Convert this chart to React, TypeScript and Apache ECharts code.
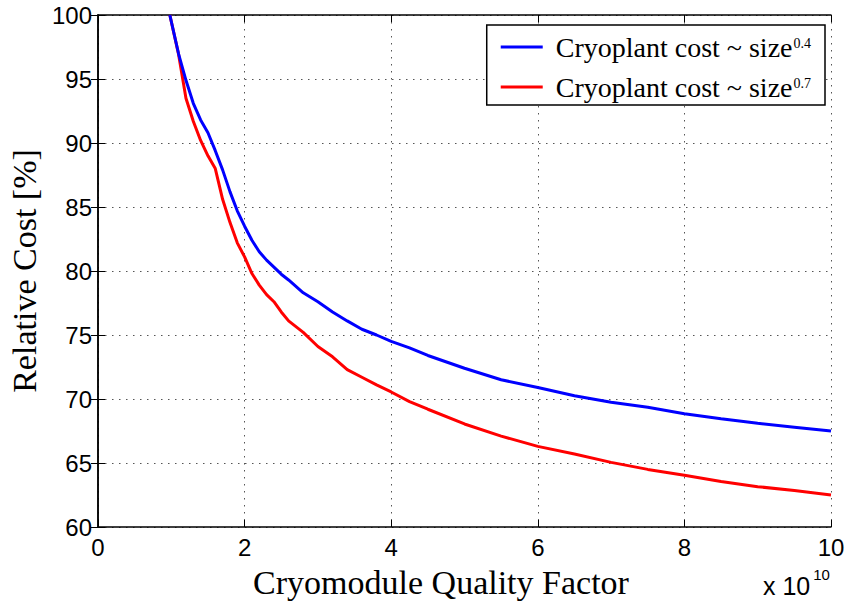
import React, { useEffect, useRef } from "react";
import * as echarts from "echarts";

// Cryomodule quality factor (in units of 1e10)
const qFactor = [
  0.98, 1.1, 1.2, 1.3, 1.4, 1.5, 1.6, 1.7, 1.8, 1.9, 2.0, 2.1, 2.2, 2.3, 2.4,
  2.5, 2.6, 2.8, 3.0, 3.2, 3.4, 3.6, 3.8, 4.0, 4.25, 4.5, 5.0, 5.5, 6.0, 6.5,
  7.0, 7.5, 8.0, 8.5, 9.0, 9.5, 10.0,
];

// Relative cost [%] with cryoplant cost scaling as size^0.4
const cost04 = [
  100, 96.95, 94.9, 93.1, 91.8, 90.8, 89.4, 87.9, 86.2, 84.7, 83.5, 82.4, 81.5,
  80.85, 80.3, 79.75, 79.3, 78.3, 77.6, 76.8, 76.1, 75.45, 75.0, 74.5, 74.0,
  73.4, 72.4, 71.5, 70.9, 70.25, 69.75, 69.35, 68.85, 68.45, 68.1, 67.8, 67.5,
];

// Relative cost [%] with cryoplant cost scaling as size^0.7
const cost07 = [
  100, 96.9, 93.5, 91.7, 90.2, 89.0, 88.0, 85.6, 83.8, 82.2, 81.1, 79.8, 78.9,
  78.15, 77.6, 76.8, 76.1, 75.2, 74.1, 73.3, 72.3, 71.7, 71.1, 70.55, 69.8,
  69.2, 68.05, 67.1, 66.3, 65.7, 65.05, 64.5, 64.05, 63.55, 63.15, 62.85, 62.5,
];

const seriesNames = ["Cryoplant cost ~ size^0.4", "Cryoplant cost ~ size^0.7"];
const seriesExponents = ["0.4", "0.7"];

const SANS = "'Liberation Sans', Arial, sans-serif";
const SERIF = "'Liberation Serif', 'Times New Roman', serif";

export default function App() {
  const ref = useRef<HTMLDivElement>(null);

  useEffect(() => {
    if (!ref.current) return;
    const chart = echarts.init(ref.current, null, { renderer: "svg" });

    const axisLine = { show: true, lineStyle: { color: "#000", width: 1.5 } };
    const tick = { show: true, inside: true, length: 7, lineStyle: { color: "#000", width: 1 } };

    chart.setOption({
      animation: false,
      backgroundColor: "#fff",
      grid: {
        left: 98,
        right: 19,
        top: 15,
        bottom: 78,
        containLabel: false,
        outerBoundsMode: "none",
      },
      legend: {
        right: 25,
        top: 25,
        orient: "vertical",
        data: seriesNames,
        backgroundColor: "#fff",
        borderColor: "#000",
        borderWidth: 1.5,
        borderRadius: 0,
        padding: [6, 14, 4, 14],
        itemGap: 10,
        icon: "rect",
        itemWidth: 42,
        itemHeight: 3,
        formatter: (name: string) => {
          const i = seriesNames.indexOf(name);
          return `{a|Cryoplant cost ~ size}{s|${seriesExponents[i]}}`;
        },
        textStyle: {
          padding: [0, 0, 0, 8],
          rich: {
            a: { fontFamily: SERIF, fontSize: 28, color: "#000", lineHeight: 32 },
            s: {
              fontFamily: SERIF,
              fontSize: 14,
              color: "#000",
              lineHeight: 14,
              verticalAlign: "top",
              padding: [5, 0, 0, 1],
            },
          },
        },
      },
      xAxis: [
        {
          type: "value",
          min: 0,
          max: 10,
          interval: 2,
          name: "Cryomodule Quality Factor",
          nameLocation: "middle",
          nameGap: 38,
          nameTextStyle: {
            fontFamily: SERIF,
            fontSize: 34,
            color: "#000",
            padding: [0, 47, 0, 0],
          },
          axisLine,
          axisTick: tick,
          axisLabel: { fontFamily: SANS, fontSize: 24, color: "#000", margin: 8 },
          splitLine: {
            show: true,
            lineStyle: { color: "#555", width: 1, type: [1.5, 5.5] },
          },
        },
        {
          type: "value",
          position: "top",
          min: 0,
          max: 10,
          interval: 2,
          axisLine,
          axisTick: tick,
          axisLabel: { show: false },
          splitLine: { show: false },
        },
      ],
      yAxis: [
        {
          type: "value",
          min: 60,
          max: 100,
          interval: 5,
          name: "Relative Cost [%]",
          nameLocation: "middle",
          nameRotate: 90,
          nameGap: 51,
          nameTextStyle: { fontFamily: SERIF, fontSize: 34, color: "#000" },
          axisLine,
          axisTick: tick,
          axisLabel: { fontFamily: SANS, fontSize: 24, color: "#000", margin: 6 },
          splitLine: {
            show: true,
            lineStyle: { color: "#555", width: 1, type: [1.5, 5.5] },
          },
        },
        {
          type: "value",
          position: "right",
          min: 60,
          max: 100,
          interval: 5,
          axisLine,
          axisTick: tick,
          axisLabel: { show: false },
          splitLine: { show: false },
        },
      ],
      graphic: [
        {
          type: "text",
          left: 763,
          top: 567,
          style: {
            text: "{a|x 10}{b|10}",
            rich: {
              a: { fontFamily: SANS, fontSize: 25, color: "#000", lineHeight: 30 },
              b: {
                fontFamily: SANS,
                fontSize: 15,
                color: "#000",
                lineHeight: 15,
                verticalAlign: "top",
                padding: [-4, 0, 0, 3],
              },
            },
          },
        },
      ],
      series: [
        {
          name: seriesNames[0],
          type: "line",
          data: qFactor.map((x, i) => [x, cost04[i]]),
          showSymbol: false,
          symbol: "none",
          lineStyle: { color: "#0000ff", width: 3 },
          itemStyle: { color: "#0000ff" },
          clip: true,
        },
        {
          name: seriesNames[1],
          type: "line",
          data: qFactor.map((x, i) => [x, cost07[i]]),
          showSymbol: false,
          symbol: "none",
          lineStyle: { color: "#ff0000", width: 3 },
          itemStyle: { color: "#ff0000" },
          clip: true,
          z: 1,
        },
      ],
    });

    return () => chart.dispose();
  }, []);

  return (
    <div
      ref={ref}
      style={{ position: "fixed", left: 0, top: 0, width: 850, height: 605 }}
    />
  );
}
